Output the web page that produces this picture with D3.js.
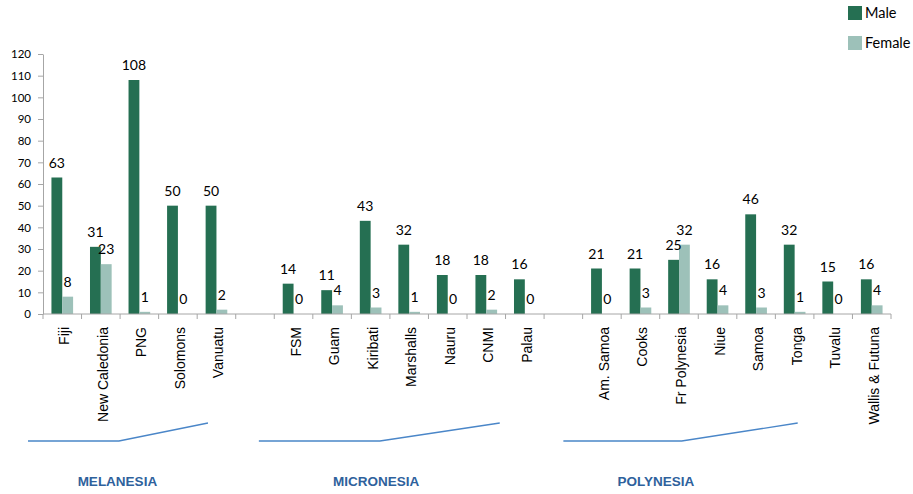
<!DOCTYPE html>
<html>
<head>
<meta charset="utf-8">
<script src="https://cdn.jsdelivr.net/npm/d3@7"></script>
<style>
  body { margin: 0; background: #fff; }
  svg { display: block; }
</style>
</head>
<body>
<div id="chart"></div>
<script>
// Categories ("" = gap between regions)
const categories = ["Fiji", "New Caledonia", "PNG", "Solomons", "Vanuatu", "",
  "FSM", "Guam", "Kiribati", "Marshalls", "Nauru", "CNMI", "Palau", "",
  "Am. Samoa", "Cooks", "Fr Polynesia", "Niue", "Samoa", "Tonga", "Tuvalu", "Wallis & Futuna"];
const male = [63, 31, 108, 50, 50, null, 14, 11, 43, 32, 18, 18, 16, null,
  21, 21, 25, 16, 46, 32, 15, 16];
const female = [8, 23, 1, 0, 2, null, 0, 4, 3, 1, 0, 2, 0, null,
  0, 3, 32, 4, 3, 1, 0, 4];
const yTicks = [0, 10, 20, 30, 40, 50, 60, 70, 80, 90, 100, 110, 120];

// Region annotations: bracket line in category-index units, label centre
const regions = [
  {name: "MELANESIA", start: -0.39, bend: 1.97, end: 4.28, label: 1.93},
  {name: "MICRONESIA", start: 5.6, bend: 8.74, end: 11.85, label: 8.64},
  {name: "POLYNESIA", start: 13.5, bend: 16.57, end: 19.58, label: 15.9}
];

const series = ["Male", "Female"];
const colors = {Male: "#256f52", Female: "#9dc1b9"};

const W = 913, H = 494;
const margin = {top: 54, left: 43, right: 22, bottom: 180};
const plotW = W - margin.left - margin.right;
const plotH = H - margin.top - margin.bottom;

const svg = d3.select("#chart").append("svg")
  .attr("width", W).attr("height", H);

const g = svg.append("g")
  .attr("transform", `translate(${margin.left},${margin.top})`);

const x0 = d3.scaleBand()
  .domain(d3.range(categories.length))
  .range([0, plotW])
  .padding(0);

const x1 = d3.scaleBand()
  .domain(series)
  .range([0, x0.bandwidth()])
  .paddingInner(0)
  .paddingOuter(0.78);

const y = d3.scaleLinear().domain([0, 120]).range([plotH, 0]);

// position for fractional category index
const xi = i => i * x0.step();

// Y axis
const yAxis = g.append("g")
  .call(d3.axisLeft(y).tickValues(yTicks).tickSize(5).tickSizeOuter(0).tickPadding(7));
yAxis.select(".domain").attr("stroke", "#a6a6a6");
yAxis.selectAll(".tick line").attr("stroke", "#a6a6a6");
yAxis.selectAll("text")
  .attr("font-family", "Lato, 'Open Sans', sans-serif")
  .attr("font-size", "11.5px")
  .attr("fill", "#000");

// Bars
const groups = g.selectAll(".cat")
  .data(categories.map((c, i) => ({i, c, Male: male[i], Female: female[i]})).filter(d => d.Male !== null))
  .enter().append("g")
  .attr("transform", d => `translate(${x0(d.i)},0)`);

groups.selectAll("rect")
  .data(d => series.map(s => ({s, v: d[s]})))
  .enter().append("rect")
  .attr("x", d => x1(d.s))
  .attr("width", x1.bandwidth())
  .attr("y", d => y(d.v))
  .attr("height", d => plotH - y(d.v))
  .attr("fill", d => colors[d.s]);

groups.selectAll("text")
  .data(d => series.map(s => ({s, v: d[s]})))
  .enter().append("text")
  .attr("x", d => x1(d.s) + x1.bandwidth() / 2)
  .attr("y", d => y(d.v) - 10)
  .attr("text-anchor", "middle")
  .attr("font-family", "Lato, 'Open Sans', sans-serif")
  .attr("font-size", "14px")
  .attr("fill", "#000")
  .text(d => d.v);

// X axis: line, boundary ticks, labels
const xAxis = g.append("g").attr("transform", `translate(0,${plotH})`);
xAxis.append("line")
  .attr("x1", 0).attr("x2", plotW)
  .attr("stroke", "#a6a6a6");
xAxis.selectAll(".btick")
  .data(d3.range(categories.length + 1))
  .enter().append("line")
  .attr("x1", d => xi(d)).attr("x2", d => xi(d))
  .attr("y1", 0).attr("y2", 5)
  .attr("stroke", "#a6a6a6");
xAxis.selectAll(".xlab")
  .data(categories.map((c, i) => ({c, i})).filter(d => d.c !== ""))
  .enter().append("text")
  .attr("transform", d => `translate(${x0(d.i) + x0.bandwidth() / 2},13) rotate(-90)`)
  .attr("dy", "0.5em")
  .attr("text-anchor", "end")
  .attr("font-family", "'Liberation Sans', Arial, sans-serif")
  .attr("font-size", "14px")
  .attr("fill", "#000")
  .text(d => d.c);

// Region brackets and labels
const reg = svg.append("g").attr("transform", `translate(${margin.left},0)`);
reg.selectAll("path")
  .data(regions)
  .enter().append("path")
  .attr("d", d => d3.line()([[xi(d.start), 441], [xi(d.bend), 441], [xi(d.end), 423]]))
  .attr("fill", "none")
  .attr("stroke", "#4a86c8")
  .attr("stroke-width", 1.3);
reg.selectAll("text")
  .data(regions)
  .enter().append("text")
  .attr("x", d => xi(d.label))
  .attr("y", 486)
  .attr("text-anchor", "middle")
  .attr("font-family", "'Liberation Sans', Arial, sans-serif")
  .attr("font-weight", "bold")
  .attr("font-size", "13.5px")
  .attr("fill", "#2e619c")
  .text(d => d.name);

// Legend
const legend = svg.append("g").attr("transform", "translate(848,6)");
const li = legend.selectAll("g")
  .data(series)
  .enter().append("g")
  .attr("transform", (d, i) => `translate(0,${i * 30})`);
li.append("rect")
  .attr("width", 14).attr("height", 14)
  .attr("fill", d => colors[d]);
li.append("text")
  .attr("x", 17).attr("y", 7)
  .attr("dy", "0.35em")
  .attr("font-family", "Lato, 'Open Sans', sans-serif")
  .attr("font-size", "14.5px")
  .attr("fill", "#000")
  .text(d => d);
</script>
</body>
</html>
